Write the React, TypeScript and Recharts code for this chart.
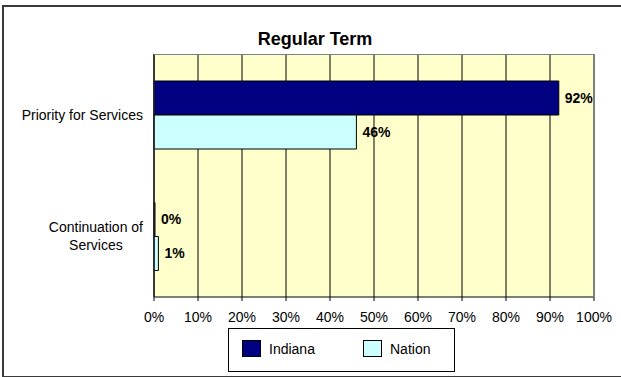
import React from 'react';
import { BarChart, Bar, XAxis, YAxis, CartesianGrid, LabelList } from 'recharts';

const categories = ['Priority for Services', 'Continuation of Services'];
const categoryLines = [['Priority for Services'], ['Continuation of', 'Services']];
const indiana = [92, 0];
const nation = [46, 1];
const xTicks = [0, 10, 20, 30, 40, 50, 60, 70, 80, 90, 100];

const series = [
  { key: 'indiana', name: 'Indiana', color: '#000080' },
  { key: 'nation', name: 'Nation', color: '#CCFFFF' },
];

const data = categories.map((c, i) => ({
  name: c,
  indiana: indiana[i],
  nation: nation[i],
}));

const FONT = '"Liberation Sans", Arial, sans-serif';

let ctx: CanvasRenderingContext2D | null = null;
function textWidth(s: string) {
  if (!ctx) ctx = document.createElement('canvas').getContext('2d');
  if (!ctx) return s.length * 7;
  ctx.font = '14px "Liberation Sans"';
  return ctx.measureText(s).width;
}

function CatTick(props: any) {
  const { x, y, index } = props;
  const lines = categoryLines[index] || [props.payload.value];
  const maxW = Math.max(...lines.map(textWidth));
  const cx = x - maxW / 2;
  const lh = 18;
  const y0 = y - ((lines.length - 1) * lh) / 2;
  return (
    <text x={cx} y={y0} textAnchor="middle" fontSize={14} fontFamily={FONT} fill="#000">
      {lines.map((l: string, i: number) => (
        <tspan key={i} x={cx} y={y0 + i * lh} dy="0.36em">{l}</tspan>
      ))}
    </text>
  );
}

export default function App() {
  return (
    <div style={{ position: 'absolute', left: 0, top: 0, width: 621, height: 377, background: '#fff', overflow: 'hidden', fontFamily: FONT }}>
      <div style={{ position: 'absolute', left: 2, top: 5, width: 640, height: 369, border: '2px solid #3a3a3a' }} />
      <div style={{ position: 'absolute', left: 0, width: 630, top: 29, textAlign: 'center', fontSize: 18, fontWeight: 'bold', color: '#000' }}>
        Regular Term
      </div>
      <div style={{ position: 'absolute', left: 0, top: 0 }}>
        <BarChart
          width={621}
          height={377}
          data={data}
          layout="vertical"
          margin={{ top: 54, right: 27, left: 0, bottom: 50 }}
          barGap={0}
          barSize={34}
        >
          <CartesianGrid horizontal={false} stroke="#000" strokeWidth={1} fill="#FFFFCC" fillOpacity={1} />
          <XAxis
            type="number"
            domain={[0, 100]}
            ticks={xTicks}
            tickFormatter={(v) => `${v}%`}
            height={30}
            axisLine={{ stroke: '#000' }}
            tickLine={{ stroke: '#000' }}
            tickSize={4}
            tickMargin={11}
            tick={{ fill: '#000', fontSize: 14, fontFamily: FONT }}
          />
          <YAxis
            type="category"
            dataKey="name"
            width={154}
            axisLine={{ stroke: '#222', strokeWidth: 1.5 }}
            tickLine={false}
            tickSize={0}
            tickMargin={11}
            tick={<CatTick />}
          />
          {series.map((s) => (
            <Bar
              key={s.key}
              dataKey={s.key}
              name={s.name}
              fill={s.color}
              stroke="#000"
              strokeWidth={1}
              minPointSize={1}
              isAnimationActive={false}
            >
              <LabelList
                dataKey={s.key}
                position="right"
                offset={6}
                formatter={(v: any) => `${v}%`}
                style={{ fill: '#000', fontSize: 14, fontWeight: 'bold', fontFamily: FONT }}
              />
            </Bar>
          ))}
        </BarChart>
      </div>
      <div style={{ position: 'absolute', left: 154, top: 54, width: 439, height: 242, borderTop: '1px solid #808080', borderRight: '1px solid #808080', pointerEvents: 'none' }} />
      <div style={{ position: 'absolute', left: 228, top: 328, width: 225, height: 42, border: '1px solid #000', background: '#fff' }}>
        {series.map((s, i) => (
          <div key={s.key} style={{ position: 'absolute', left: i === 0 ? 13 : 134, top: 11, display: 'flex', alignItems: 'center', fontSize: 14, color: '#000' }}>
            <span style={{ display: 'inline-block', width: 17, height: 15, background: s.color, border: '1px solid #000', marginRight: 8 }} />
            {s.name}
          </div>
        ))}
      </div>
    </div>
  );
}
